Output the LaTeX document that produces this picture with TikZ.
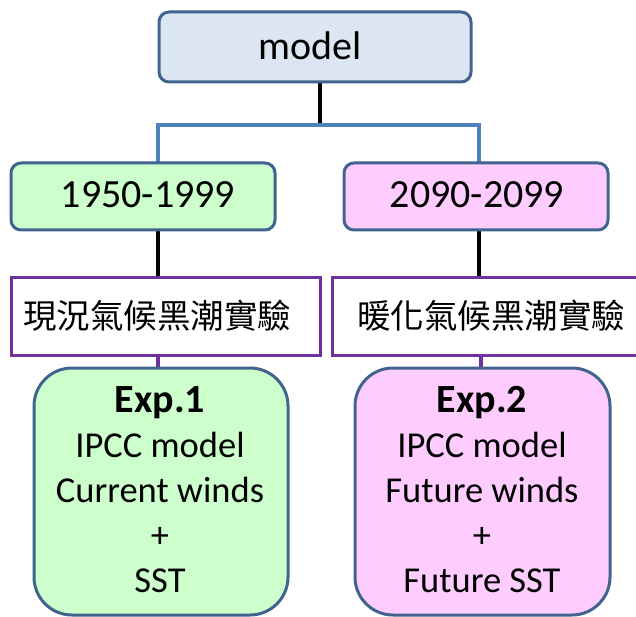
\documentclass[tikz,border=0pt]{standalone}
\usepackage{fontspec}
\setmainfont{Carlito}
\newfontfamily\cjk{Noto Sans CJK TC}
\newcommand{\expheadfont}{\bfseries\fontsize{40}{45}\selectfont}
\definecolor{boxedge}{HTML}{41648F}
\definecolor{modelfill}{HTML}{DCE6F2}
\definecolor{greenfill}{HTML}{CCFFCC}
\definecolor{pinkfill}{HTML}{FFCCFF}
\definecolor{linkblue}{HTML}{4F81BD}
\definecolor{linkpurple}{HTML}{7030A0}
\tikzset{
  roundbox/.style={draw=boxedge, line width=3pt, rounded corners=10pt},
  labelbox/.style={draw=linkpurple, line width=3pt, fill=white},
  expbox/.style={draw=boxedge, line width=3pt, rounded corners=38pt},
  blackwire/.style={line width=4pt, black},
  bluewire/.style={line width=3.5pt, linkblue},
  purplewire/.style={line width=4pt, linkpurple},
  txt/.style={font=\fontsize{40}{46}\selectfont, inner sep=0pt},
  cjktxt/.style={font=\cjk\fontsize{33.5}{38}\selectfont, inner sep=0pt},
  exptxt/.style={font=\fontsize{36.5}{45}\selectfont, align=center, inner sep=0pt}
}
\begin{document}
\begin{tikzpicture}[x=1pt, y=-1pt]
  \useasboundingbox (0,0) rectangle (636,617);
  \clip (0,0) rectangle (636,617);
  \fill[white] (0,0) rectangle (636,617);

  % connectors (drawn first so the boxes cover their ends)
  \coordinate (split) at (320,125);
  \coordinate (splitL) at (158,125);
  \coordinate (splitR) at (479,125);
  \draw[blackwire] (320,82) -- (split);
  \draw[bluewire] (splitL |- 0,163) -- (splitL) -- (splitR) -- (splitR |- 0,163);
  \draw[blackwire] (158,230) -- (158,277);
  \draw[blackwire] (479,230) -- (479,277);
  \draw[purplewire] (158,355) -- (158,368);
  \draw[purplewire] (481,355) -- (481,368);

  % top box
  \draw[roundbox, fill=modelfill] (159,12) rectangle (471,82);
  \node[txt] (model) at (310,46) {model};

  % period boxes
  \draw[roundbox, fill=greenfill] (11,163) rectangle (275,230);
  \node[txt] (p1) at (148,195) {1950-1999};
  \draw[roundbox, fill=pinkfill] (344,163) rectangle (608,230);
  \node[txt] (p2) at (477,195) {2090-2099};

  % experiment name boxes
  \draw[labelbox] (11,277) rectangle (320,355);
  \node[cjktxt] (n1) at (157,316) {現況氣候黑潮實驗};
  \draw[labelbox] (332,277) rectangle (650,355);
  \node[cjktxt] (n2) at (491,316) {暖化氣候黑潮實驗};

  % experiment boxes
  \draw[expbox, fill=greenfill] (34,368) rectangle (288,615);
  \node[exptxt] (e1) at (160,490) {{\expheadfont Exp.1}\\IPCC model\\Current winds\\+\\SST};
  \draw[expbox, fill=pinkfill] (355,368) rectangle (610,615);
  \node[exptxt] (e2) at (482,490) {{\expheadfont Exp.2}\\IPCC model\\Future winds\\+\\Future SST};
\end{tikzpicture}
\end{document}
